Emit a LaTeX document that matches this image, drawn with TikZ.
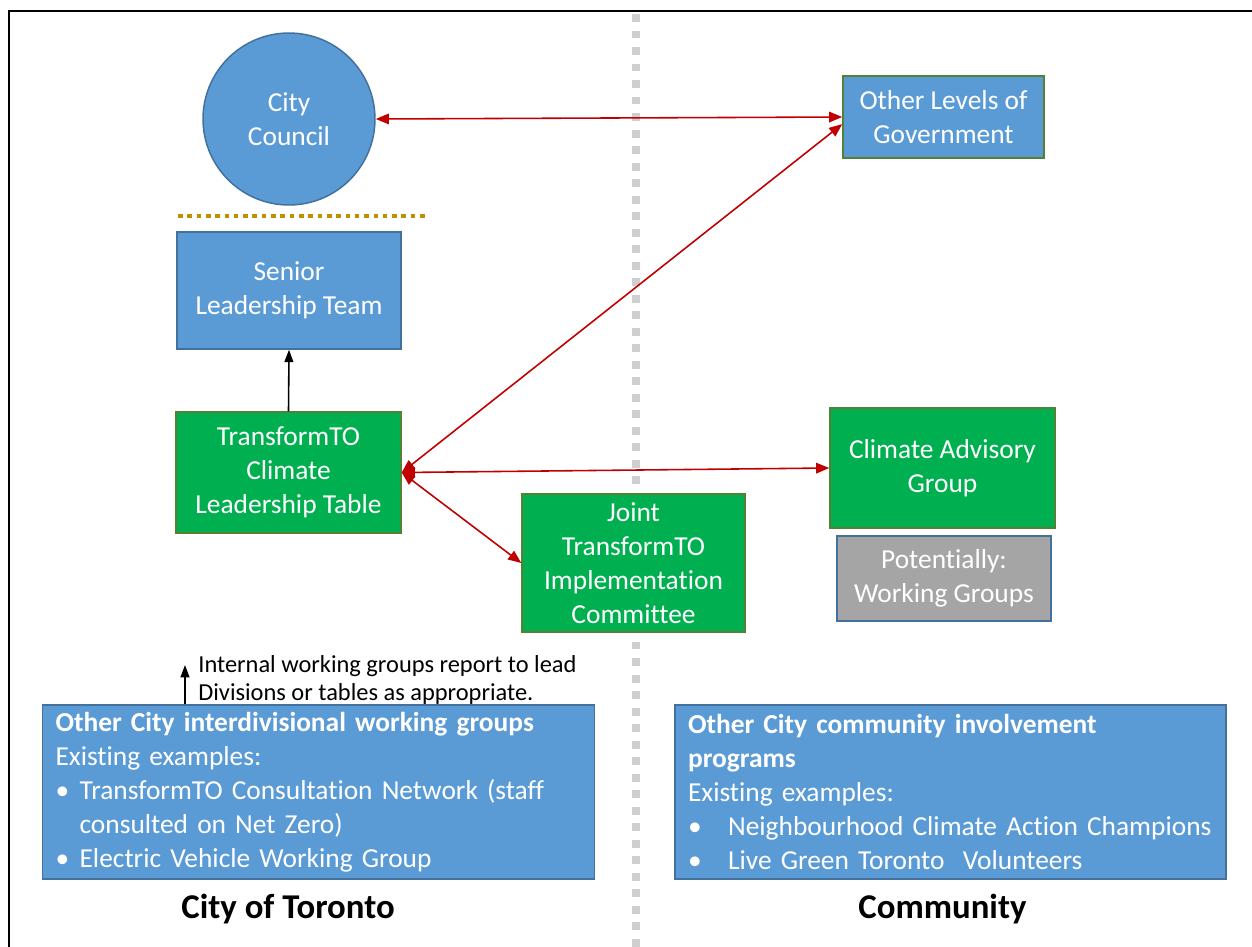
\documentclass[tikz,border=0pt]{standalone}
\usepackage{fontspec}
\setmainfont{Carlito}[Ligatures={NoCommon,NoContextual},Contextuals=NoAlternate,RawFeature={-dlig}]
\usetikzlibrary{arrows.meta}
\definecolor{fillb}{HTML}{5B9BD5}
\definecolor{lineb}{HTML}{41719C}
\definecolor{fillg}{HTML}{00B050}
\definecolor{lineg}{HTML}{548235}
\definecolor{fillk}{HTML}{A5A5A5}
\definecolor{redline}{HTML}{C00000}
\definecolor{golddot}{HTML}{BF9000}
\definecolor{divgray}{HTML}{CFCFCF}
\newcommand\bul[2]{\makebox[#1][l]{\textbullet}\mbox{#2}}

\tikzset
{
  box0/.style={draw=lineb,fill=fillb,text=white,line width=0.85pt,align=center,
    font=\fontsize{15.6}{19.3}\selectfont},
  box1/.style={box0,draw=lineg,fill=fillg},
  box2/.style={box0,fill=fillk},
  wide/.style={box0,align=left,text width=10.52cm,inner xsep=0.26cm,minimum height=3.48cm},
  link0/.style={draw=redline,line width=0.9pt,
    {Triangle[length=7.5pt,width=6pt]}-{Triangle[length=7.5pt,width=6pt]}},
  link1/.style={draw=black,line width=0.9pt,-{Triangle[length=7pt,width=5pt]}},
  label0/.style={font=\fontsize{19.8}{24}\selectfont\bfseries}
}

\begin{document}
\begin{tikzpicture}[x=0.02cm,y=-0.02cm]
\useasboundingbox (0,0) rectangle (1252,947);
\draw[line width=1.7pt] (9,947) -- (9,11) -- (1252,11);%frame
\draw[divgray,line width=4.5pt,dash pattern=on 4.5pt off 4.9pt] (636,14) -- (636,947);
\draw[golddot,line width=2.6pt,dash pattern=on 2.6pt off 2.7pt] (178,216) -- (425,216);

\node[box0,circle,minimum size=3.44cm,inner sep=0pt] (council) at (289,119) {City\\Council};
\node[box0,minimum width=4.48cm,minimum height=2.34cm] (slt) at (289,290.5) {Senior\\Leadership Team};
\node[box1,minimum width=4.5cm,minimum height=2.42cm] (clt) at (288.5,472.5) {TransformTO\\Climate\\Leadership Table};
\node[box0,draw=lineg,minimum width=4.02cm,minimum height=1.64cm] (olg) at (943.5,117) {Other Levels of\\Government};
\node[box1,minimum width=4.5cm,minimum height=2.4cm] (cag) at (942.5,468) {Climate Advisory\\Group};
\node[box2,minimum width=4.28cm,minimum height=1.7cm] (pwg) at (944,578.5) {Potentially:\\Working Groups};
\node[box1,minimum width=4.46cm,minimum height=2.76cm] (jtic) at (633.5,563) {Joint\\TransformTO\\Implementation\\Committee};

\node[wide] (citybox) at (318.5,792)
{\textbf{Other City interdivisional working groups}\\
Existing examples:\\
\bul{13.7pt}{TransformTO Consultation Network (staff}\\
\hspace*{13.7pt}consulted on Net Zero)\\
\bul{13.7pt}{Electric Vehicle Working Group}};
\node[wide,text width=10.5cm] (commbox) at (950.5,792)
{\textbf{Other City community involvement}\\
\textbf{programs}\\
Existing examples:\\
\bul{22.8pt}{Neighbourhood Climate Action Champions}\\
\bul{22.8pt}{Live Green Toronto\ \ Volunteers}};

\node[anchor=west,align=left,inner sep=0pt,font=\fontsize{13.9}{16}\selectfont] (note) at (198,680)
{Internal working groups report to lead\\Divisions or tables as appropriate.};
\coordinate (notetip) at (185,665);

\node[label0] (tor) at (288,909) {City of Toronto};
\node[label0] (com) at (942.5,909) {Community};

\draw[link0] (council.east) -- (olg.west);
\foreach\t in {olg.184,cag.west,jtic.west}
{
  \draw[link0] (clt.east) -- (\t);%three links out of the table
}
\draw[link1] (clt.north) -- (slt.south);
\draw[link1] (citybox.north -| notetip) -- (notetip);
\end{tikzpicture}
\end{document}
